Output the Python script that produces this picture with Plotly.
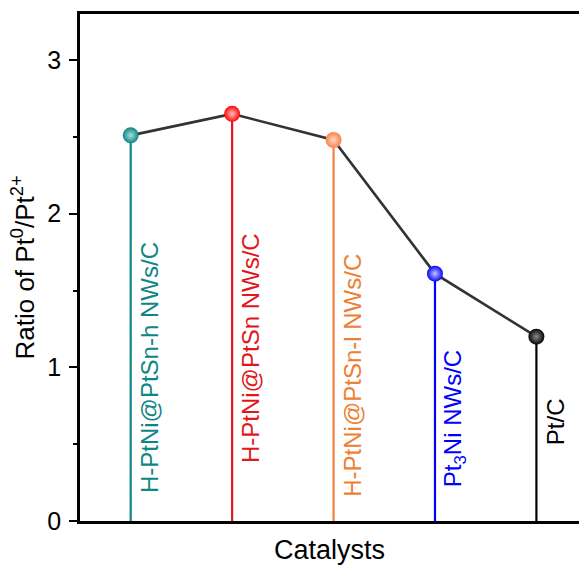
import plotly.graph_objects as go

# ---- data ----
catalysts = ["H-PtNi@PtSn-h NWs/C", "H-PtNi@PtSn NWs/C", "H-PtNi@PtSn-l NWs/C",
             "Pt<sub>3</sub>Ni NWs/C", "Pt/C"]
ratio = [2.51, 2.65, 2.48, 1.61, 1.20]
positions = [1, 2, 3, 4, 5]
y_ticks = [0, 1, 2, 3]

# ---- styles ----
stem_colors = ["#108585", "#E3161C", "#F5803E", "#0000FF", "#000000"]
marker_colors = ["#0E8585", "#FF0505", "#F7844A", "#0505FF", "#050505"]
center_colors = ["#A8DEDE", "#FFC0C0", "#FFD8C2", "#C4C4FF", "#8A8A8A"]
text_colors = ["#108585", "#E3161C", "#EE8033", "#0000FF", "#000000"]
label_base = [0.17, 0.365, 0.145, 0.21, 0.48]   # where each vertical label begins
FONT = "Liberation Sans, Arial, sans-serif"

fig = go.Figure()

# connecting line
fig.add_trace(go.Scatter(x=positions, y=ratio, mode="lines",
                         line=dict(color="#333333", width=2.6),
                         showlegend=False, hoverinfo="skip"))

# stems
for xi, yi, c in zip(positions, ratio, stem_colors):
    fig.add_trace(go.Scatter(x=[xi, xi], y=[0, yi], mode="lines",
                             line=dict(color=c, width=2.2),
                             showlegend=False, hoverinfo="skip"))

# spherical markers
for xi, yi, c, cc in zip(positions, ratio, marker_colors, center_colors):
    fig.add_trace(go.Scatter(x=[xi], y=[yi], mode="markers",
                             marker=dict(size=16, color=c,
                                         gradient=dict(type="radial", color=cc),
                                         line=dict(width=0)),
                             showlegend=False))

# vertical labels
for xi, name, tc, yb in zip(positions, catalysts, text_colors, label_base):
    fig.add_annotation(x=xi, y=yb, xref="x", yref="y", text=name,
                       textangle=-90, showarrow=False,
                       xanchor="center", yanchor="bottom", xshift=19,
                       font=dict(family=FONT, size=24, color=tc))

fig.update_layout(
    width=579, height=571,
    margin=dict(l=80, r=0, t=14, b=50),
    paper_bgcolor="white", plot_bgcolor="white",
    font=dict(family=FONT, color="black"),
    xaxis=dict(range=[0.5, 5.42], showgrid=False, zeroline=False,
               showticklabels=False, ticks="",
               showline=True, linecolor="black", linewidth=2.5, mirror=True,
               title=dict(text="Catalysts", font=dict(size=27, family=FONT),
                          standoff=18)),
    yaxis=dict(range=[0, 3.3], showgrid=False, zeroline=False,
               tickvals=y_ticks, ticktext=[str(v) for v in y_ticks],
               ticks="outside", ticklen=8, tickwidth=2, tickcolor="black",
               tickfont=dict(size=25, family=FONT), ticklabelstandoff=3,
               minor=dict(ticks="outside", ticklen=4, tickwidth=2,
                          tickcolor="black", dtick=0.5, tick0=0),
               showline=True, linecolor="black", linewidth=2.5, mirror=False,
               title=dict(text="Ratio of Pt<sup>0</sup>/Pt<sup>2+</sup>",
                          font=dict(size=26, family=FONT), standoff=6)),
)

fig.write_html("out.html")
